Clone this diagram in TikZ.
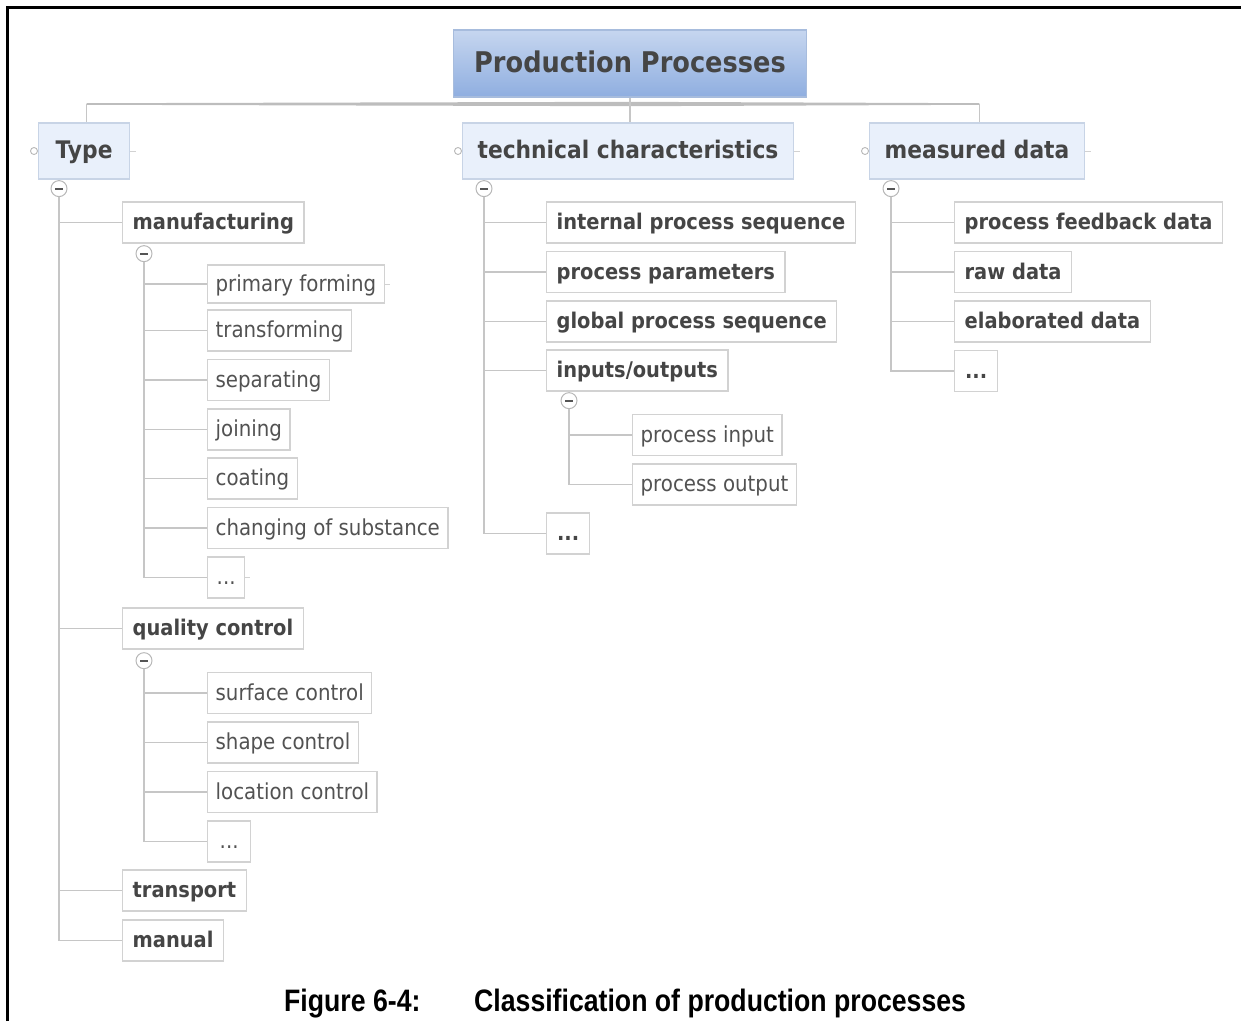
\documentclass[tikz,border=0pt]{standalone}
\usepackage{fontspec}
\setmainfont{DejaVu Sans}[FakeStretch=0.9]
\newfontfamily\capfont{Liberation Sans}[FakeStretch=0.86]
\usetikzlibrary{calc}

\definecolor{txtdark}{HTML}{454545}
\definecolor{txtleaf}{HTML}{525252}
\definecolor{boxline}{HTML}{D2D2D2}
\definecolor{connline}{HTML}{C6C6C6}
\definecolor{busfill}{HTML}{BDBDBD}
\definecolor{topicfill}{HTML}{E9F0FB}
\definecolor{topicline}{HTML}{C8D4E6}
\definecolor{rootTop}{HTML}{C6D6EF}
\definecolor{rootBot}{HTML}{8FAEE0}
\definecolor{rootline}{HTML}{A7BCDD}
\definecolor{foldline}{HTML}{B8B8B8}
\definecolor{foldminus}{HTML}{555555}

\newcommand\mmRoot{\fontsize{28.5}{32}\selectfont\bfseries}
\newcommand\mmTopic{\fontsize{24.2}{27}\selectfont\bfseries}
\newcommand\mmSub{\fontsize{21.6}{24}\selectfont\bfseries}
\newcommand\mmLeaf{\fontsize{22}{24}\selectfont}

\tikzset{
  root/.style={draw=rootline, line width=1.2pt, top color=rootTop, bottom color=rootBot,
    minimum width=353pt, minimum height=67pt, inner ysep=0pt, font=\mmRoot, text=txtdark,
    text height=1.7em, text depth=0pt},
  topic/.style={draw=topicline, line width=1.2pt, fill=topicfill, anchor=west,
    minimum height=56pt, inner xsep=15pt, inner ysep=0pt, font=\mmTopic, text=txtdark,
    text height=1.5em, text depth=0pt},
  sub/.style={draw=boxline, line width=1.3pt, fill=white, anchor=west,
    minimum height=41pt, inner xsep=10pt, inner ysep=0pt, font=\mmSub, text=txtdark,
    text height=1.42em, text depth=0pt},
  leaf/.style={sub, inner xsep=8pt, font=\mmLeaf, text=txtleaf},
  conn/.style={draw=connline, line width=1.5pt},
  tick/.style={draw=boxline, line width=1pt},
  fold/.style={circle, draw=foldline, line width=1pt, fill=white, minimum size=16pt, inner sep=0pt,
    path picture={\draw[line width=1.8pt, foldminus]
      ([xshift=-4pt]path picture bounding box.center) -- ([xshift=4pt]path picture bounding box.center);}},
  grip/.style={circle, draw=foldline, line width=0.9pt, fill=white, minimum size=7pt, inner sep=0pt},
  captext/.style={anchor=base west, inner sep=0pt, font=\capfont\fontsize{31}{34}\selectfont\bfseries, text=black},
}

\begin{document}
\begin{tikzpicture}[x=1pt, y=-1pt]
\useasboundingbox (0,0) rectangle (1241,1021);

% page frame (top and left edges)
\draw[line width=2.4pt] (7.3,1021) -- (7.3,7.3) -- (1241,7.3);

% central topic and main branches
\node[root] (root) at (630,63.5) {Production Processes};
\node[topic, minimum width=91pt] (type) at (38,151) {Type};
\node[topic] (tech) at (462,151) {technical characteristics};
\node[topic] (meas) at (869,151) {measured data};

% bus linking the main branches
\coordinate (bus) at (630,104);
\path ([xshift=2.5pt]type.north |- bus) coordinate (busL)
      ([xshift=2.5pt]meas.north |- bus) coordinate (busR);
\fill[busfill] ([yshift=0.8pt]busL) -- ([yshift=2.2pt]bus) -- ([yshift=0.8pt]busR)
  -- ([yshift=-0.8pt]busR) -- ([yshift=-2.2pt]bus) -- ([yshift=-0.8pt]busL) -- cycle;
\draw[conn] (root.south) -- (root.south |- tech.north);
\draw[conn] (busL) -- (busL |- type.north);
\draw[conn] (busR) -- (busR |- meas.north);

% grips and ticks on the main branches
\foreach \t in {type,tech,meas}{
  \node[grip] (g-\t) at ([xshift=-4pt]\t.west) {};
  \draw[tick] (\t.east) -- ++(6,0);
}

% ---- Type ----
\node[sub] (manu)   at (122,222.5) {manufacturing};
\node[sub] (qual)   at (122,628.5) {quality control};
\node[sub] (transp) at (122,890.5) {transport};
\node[sub] (manual) at (122,940.5) {manual};

\node[leaf, minimum height=38pt] (pf) at (207,284) {primary forming};
\node[leaf] (tr)    at (207,330.5) {transforming};
\node[leaf] (sep)   at (207,380)   {separating};
\node[leaf] (join)  at (207,429.5) {joining};
\node[leaf] (coat)  at (207,478.5) {coating};
\node[leaf] (chg)   at (207,528)   {changing of substance};
\node[leaf, minimum width=37pt] (mdots) at (207,577.5) {...};
\draw[tick] (pf.east) -- ++(5,0);
\draw[tick] (mdots.east) -- ++(5,0);

\node[leaf] (sc)    at (207,693)   {surface control};
\node[leaf] (shc)   at (207,742.5) {shape control};
\node[leaf] (lc)    at (207,792)   {location control};
\node[leaf, minimum width=43pt] (qdots) at (207,841.5) {...};

% ---- technical characteristics ----
\node[sub] (ips) at (546,222.5) {internal process sequence};
\node[sub] (pp)  at (546,272)   {process parameters};
\node[sub] (gps) at (546,321.5) {global process sequence};
\node[sub] (io)  at (546,370.5) {inputs/outputs};
\node[sub, minimum width=43pt] (tdots) at (546,533.5) {...};

\node[leaf] (pin)  at (632,435)   {process input};
\node[leaf] (pout) at (632,484.5) {process output};

% ---- measured data ----
\node[sub] (pfd)  at (954,222.5) {process feedback data};
\node[sub] (raw)  at (954,272)   {raw data};
\node[sub] (elab) at (954,321.5) {elaborated data};
\node[sub, minimum width=43pt] (ddots) at (954,371) {...};

% fold buttons
\node[fold] (fType) at ([xshift=21pt,yshift=-9pt]type.south west) {};
\node[fold] (fTech) at ([xshift=22pt,yshift=-9pt]tech.south west) {};
\node[fold] (fMeas) at ([xshift=22pt,yshift=-9pt]meas.south west) {};
\node[fold] (fManu) at ([xshift=22pt,yshift=-10pt]manu.south west) {};
\node[fold] (fQual) at ([xshift=22pt,yshift=-11pt]qual.south west) {};
\node[fold] (fIo)   at ([xshift=23pt,yshift=-9pt]io.south west) {};

% connectors
\foreach \c in {manu,qual,transp,manual} \draw[conn] (fType.south) |- (\c.west);
\foreach \c in {pf,tr,sep,join,coat,chg,mdots} \draw[conn] (fManu.south) |- (\c.west);
\foreach \c in {sc,shc,lc,qdots} \draw[conn] (fQual.south) |- (\c.west);
\foreach \c in {ips,pp,gps,io,tdots} \draw[conn] (fTech.south) |- (\c.west);
\foreach \c in {pin,pout} \draw[conn] (fIo.south) |- (\c.west);
\foreach \c in {pfd,raw,elab,ddots} \draw[conn] (fMeas.south) |- (\c.west);

% caption
\node[captext] (capnum) at (284,1011) {Figure 6-4:};
\node[captext] (captxt) at (474,1011) {Classification of production processes};
\end{tikzpicture}
\end{document}
